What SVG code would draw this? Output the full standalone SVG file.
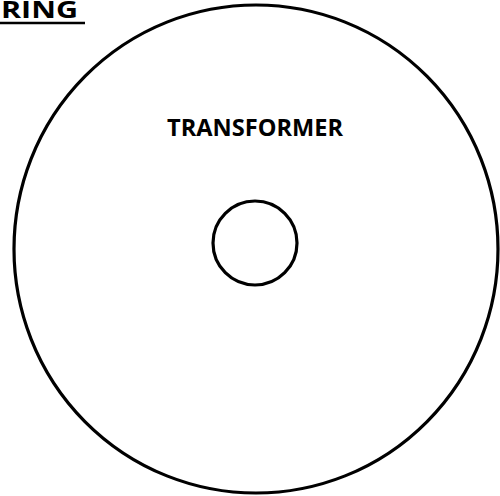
<svg xmlns="http://www.w3.org/2000/svg" width="500" height="496" viewBox="0 0 500 496">
<style>
.ln{fill:none;stroke:#000;stroke-width:3.2}
.t{font-family:"Open Sans","Liberation Sans",sans-serif;font-weight:bold;fill:#000}
</style>
<rect width="500" height="496" fill="#fff"/>
<g id="title">
<text class="t" x="1" y="18" font-size="23" textLength="77" lengthAdjust="spacingAndGlyphs">RING</text>
<line x1="0" y1="23" x2="85" y2="23" stroke="#000" stroke-width="2.5"/>
</g>
<g id="ring">
<ellipse class="ln" cx="256" cy="249" rx="242" ry="244"/>
</g>
<g id="transformer-label">
<text class="t" x="167" y="136" font-size="24" textLength="176" lengthAdjust="spacingAndGlyphs">TRANSFORMER</text>
</g>
<g id="transformer">
<circle class="ln" cx="255" cy="243" r="42"/>
</g>
<g id="connectors"></g>
</svg>
